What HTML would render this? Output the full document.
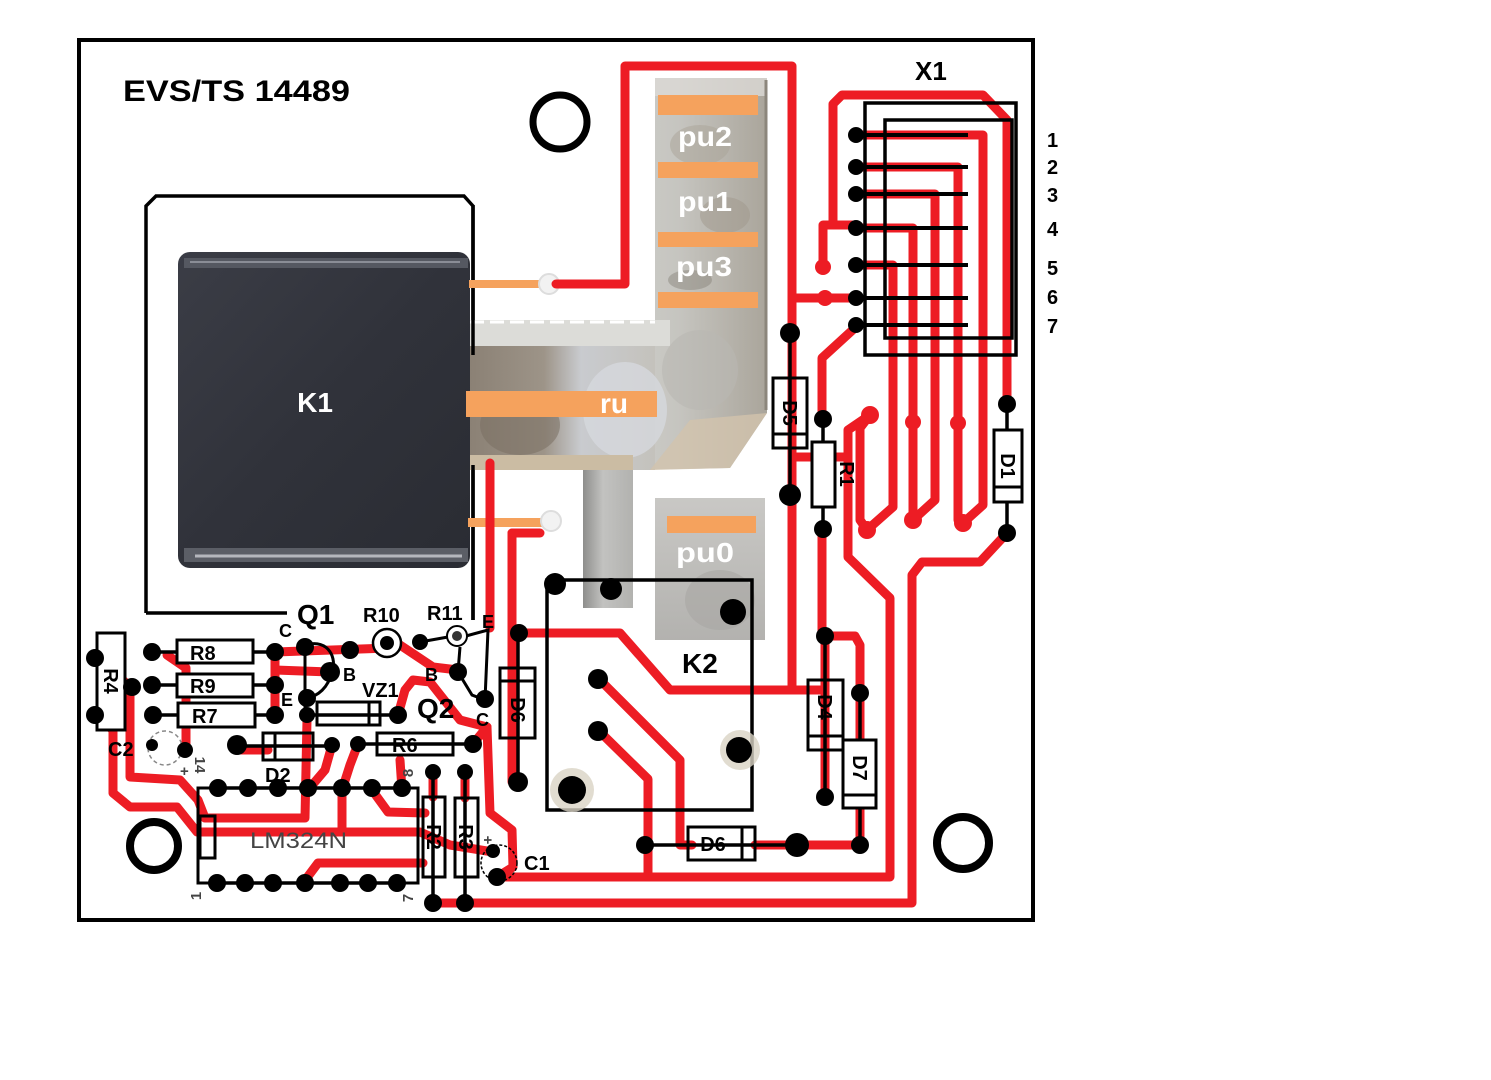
<!DOCTYPE html>
<html><head><meta charset="utf-8"><style>
html,body{margin:0;padding:0;background:#fff;}
svg{display:block;}
text{font-family:"Liberation Sans",Arial,sans-serif;font-weight:bold;}
</style></head><body>
<svg width="1491" height="1080" viewBox="0 0 1491 1080" xmlns="http://www.w3.org/2000/svg">
<defs>
 <linearGradient id="k1g" x1="0" y1="0" x2="1" y2="1">
  <stop offset="0" stop-color="#3b3d46"/><stop offset="0.5" stop-color="#30323a"/><stop offset="1" stop-color="#2a2c33"/>
 </linearGradient>
 <linearGradient id="colg" x1="0" y1="0" x2="1" y2="0">
  <stop offset="0" stop-color="#b7b3aa"/><stop offset="0.35" stop-color="#d3d3d0"/><stop offset="0.7" stop-color="#c6c5c0"/><stop offset="1" stop-color="#aaa59b"/>
 </linearGradient>
 <linearGradient id="bodyg" x1="0" y1="0" x2="1" y2="0">
  <stop offset="0" stop-color="#8b8175"/><stop offset="0.4" stop-color="#9d9488"/><stop offset="0.6" stop-color="#c9cbcf"/><stop offset="1" stop-color="#c4c2bc"/>
 </linearGradient>
 <linearGradient id="stemg" x1="0" y1="0" x2="1" y2="0">
  <stop offset="0" stop-color="#8e8e8c"/><stop offset="0.4" stop-color="#c2c2c0"/><stop offset="1" stop-color="#b2b2af"/>
 </linearGradient>
 <linearGradient id="pu0g" x1="0" y1="0" x2="0" y2="1">
  <stop offset="0" stop-color="#c9c8c5"/><stop offset="1" stop-color="#b3b2af"/>
 </linearGradient>
</defs>

<!-- board -->
<rect x="79" y="40" width="954" height="880" fill="#fff" stroke="#000" stroke-width="4"/>
<text x="123" y="101" font-size="30" textLength="227" lengthAdjust="spacingAndGlyphs">EVS/TS 14489</text>

<!-- mounting holes -->
<circle cx="560" cy="122" r="27" fill="none" stroke="#000" stroke-width="7"/>
<circle cx="154" cy="846" r="24" fill="none" stroke="#000" stroke-width="8"/>
<circle cx="963" cy="843" r="26" fill="none" stroke="#000" stroke-width="8"/>

<!-- K1 outline -->
<path d="M146,613 L146,206 L156,196 L464,196 L473,206 L473,620" fill="none" stroke="#000" stroke-width="3.5"/>
<path d="M146,613 L287,613" fill="none" stroke="#000" stroke-width="3.5"/>

<!-- photo silver region -->
<path d="M470,320 L655,320 L655,78 L767,78 L767,413 L730,468 L633,470 L633,608 L583,608 L583,470 L470,470 Z" fill="url(#colg)"/>
<rect x="470" y="320" width="185" height="150" fill="url(#bodyg)"/>
<rect x="470" y="320" width="200" height="26" fill="#dcdcd8"/>
<line x1="470" y1="322" x2="655" y2="322" stroke="#fff" stroke-width="3" stroke-dasharray="14 6"/>
<ellipse cx="520" cy="425" rx="40" ry="30" fill="#7a6f62" opacity="0.55"/>
<ellipse cx="625" cy="410" rx="42" ry="48" fill="#d6d8dd" opacity="0.8"/>
<ellipse cx="700" cy="370" rx="38" ry="40" fill="#b9b8b2" opacity="0.6"/>
<path d="M690,420 L767,413 L730,468 L650,470 Z" fill="#d2c3ac" opacity="0.8"/>
<rect x="470" y="455" width="163" height="15" fill="#cbbca3"/>
<rect x="583" y="470" width="50" height="138" fill="url(#stemg)"/>
<rect x="655" y="78" width="112" height="18" fill="#dcdad6" opacity="0.8"/>
<ellipse cx="700" cy="145" rx="30" ry="20" fill="#a9a397" opacity="0.5"/>
<ellipse cx="725" cy="215" rx="25" ry="18" fill="#9f988c" opacity="0.5"/>
<ellipse cx="690" cy="280" rx="22" ry="10" fill="#7d776e" opacity="0.4"/>
<line x1="766" y1="80" x2="766" y2="410" stroke="#8c867c" stroke-width="3"/>
<rect x="655" y="498" width="110" height="142" fill="url(#pu0g)"/>
<ellipse cx="720" cy="600" rx="35" ry="30" fill="#a8a7a4" opacity="0.6"/>

<!-- K1 body -->
<rect x="178" y="252" width="292" height="316" rx="12" fill="url(#k1g)"/>
<rect x="184" y="258" width="284" height="10" fill="#555861"/>
<line x1="190" y1="262" x2="460" y2="262" stroke="#8a8d96" stroke-width="2"/>
<rect x="184" y="548" width="284" height="14" fill="#5b5e66"/>
<line x1="195" y1="556" x2="462" y2="556" stroke="#b5b7bd" stroke-width="3"/>
<text x="315" y="412" font-size="28" fill="#fff" text-anchor="middle">K1</text>
<line x1="473" y1="205" x2="473" y2="355" stroke="#000" stroke-width="3.5"/>
<line x1="473" y1="465" x2="473" y2="620" stroke="#000" stroke-width="3.5"/>

<!-- orange pads -->
<g fill="#f5a25d">
 <rect x="658" y="95" width="100" height="20"/>
 <rect x="658" y="162" width="100" height="16"/>
 <rect x="658" y="232" width="100" height="15"/>
 <rect x="658" y="292" width="100" height="16"/>
 <rect x="466" y="391" width="191" height="26"/>
 <rect x="667" y="516" width="89" height="17"/>
 <rect x="469" y="280" width="80" height="8"/>
 <rect x="468" y="518" width="82" height="9"/>
</g>
<circle cx="549" cy="284" r="10" fill="#f2f2f2" stroke="#ddd" stroke-width="2"/>
<circle cx="551" cy="521" r="10" fill="#f2f2f2" stroke="#ddd" stroke-width="2"/>
<g fill="#fff" font-size="28">
 <text x="678" y="146" textLength="54" lengthAdjust="spacingAndGlyphs">pu2</text>
 <text x="678" y="211" textLength="54" lengthAdjust="spacingAndGlyphs">pu1</text>
 <text x="676" y="276" textLength="56" lengthAdjust="spacingAndGlyphs">pu3</text>
 <text x="600" y="413">ru</text>
 <text x="676" y="562" textLength="58" lengthAdjust="spacingAndGlyphs">pu0</text>
</g>

<!-- RED TRACES -->
<g fill="none" stroke="#ed1c24" stroke-width="9" stroke-linejoin="round" stroke-linecap="round">
 <path d="M556,284 L625,284 L625,66 L792,66 L792,690"/>
 <path d="M792,298 L857,298"/>
 <path d="M823,267 L823,225 L853,225"/>
 <path d="M833,225 L833,104 L842,95 L983,95 L1007,120 L1007,403"/>
 <path d="M857,326 L822,358 L822,420"/>
 <path d="M857,135 L983,135 L983,505 L963,523"/>
 <path d="M857,167 L958,167 L958,520 L963,523"/>
 <path d="M857,194 L935,194 L935,500 L913,520"/>
 <path d="M857,228 L913,228 L913,520"/>
 <path d="M857,265 L893,265 L893,507 L867,530"/>
 <path d="M867,530 L860,520 L860,428 L870,415"/>
 <path d="M870,415 L848,430 L848,557 L890,598 L890,877 L497,877"/>
 <path d="M792,457 L848,457"/>
 <path d="M1007,533 L980,562 L922,562 L912,575 L912,903 L433,903"/>
 <path d="M519,633 L620,633 L670,690 L825,690"/>
 <path d="M598,678 L680,760 L680,845 L692,845"/>
 <path d="M598,730 L648,779 L648,877"/>
 <path d="M822,528 L822,636"/>
 <path d="M825,636 L825,797"/>
 <path d="M825,636 L855,636 L860,645 L860,845"/>
 <path d="M755,845 L860,845"/>
 <path d="M490,463 L490,628"/>
 <path d="M512,533 L540,533"/>
 <path d="M512,533 L512,782"/>
 <!-- bottom-left -->
 <path d="M102,660 L130,687"/>
 <path d="M130,687 L130,777 L180,780 L198,800 L205,818 L305,818 L307,720"/>
 <path d="M95,715 L113,730 L113,793 L130,807 L177,807 L197,832 L420,832 L450,845 L493,852"/>
 <path d="M167,655 L186,668 L186,748"/>
 <path d="M275,652 L275,715"/>
 <path d="M275,670 L330,672"/>
 <path d="M275,652 L388,648"/>
 <path d="M237,750 L268,750"/>
 <path d="M342,790 L342,832"/>
 <path d="M358,744 L350,765 L342,790"/>
 <path d="M332,745 L325,770 L308,790"/>
 <path d="M372,790 L388,812 L425,813"/>
 <path d="M303,883 L318,863 L423,863"/>
 <path d="M398,715 L405,690 L413,680 L430,682 L460,720 L487,727 L490,813 L512,830 L513,867 L497,877"/>
 <path d="M400,645 L433,667 L458,670"/>
 <path d="M402,790 L400,760"/>
 <path d="M433,772 L433,797"/>
 <path d="M465,772 L465,798"/>
 <path d="M473,744 L487,727"/>
</g>
<g fill="#ed1c24">
 <circle cx="823" cy="267" r="8"/>
 <circle cx="825" cy="298" r="8"/>
 <circle cx="870" cy="415" r="9"/>
 <circle cx="867" cy="530" r="9"/>
 <circle cx="913" cy="422" r="8"/>
 <circle cx="913" cy="520" r="9"/>
 <circle cx="958" cy="423" r="8"/>
 <circle cx="963" cy="523" r="9"/>
</g>

<!-- X1 -->
<text x="915" y="80" font-size="26">X1</text>
<rect x="865" y="103" width="151" height="252" fill="none" stroke="#000" stroke-width="3.5"/>
<rect x="885" y="120" width="127" height="218" fill="none" stroke="#000" stroke-width="3.5"/>
<g stroke="#000" stroke-width="4">
 <line x1="857" y1="135" x2="968" y2="135"/>
 <line x1="857" y1="167" x2="968" y2="167"/>
 <line x1="857" y1="194" x2="968" y2="194"/>
 <line x1="857" y1="228" x2="968" y2="228"/>
 <line x1="857" y1="265" x2="968" y2="265"/>
 <line x1="857" y1="298" x2="968" y2="298"/>
 <line x1="857" y1="325" x2="968" y2="325"/>
</g>
<g fill="#000">
 <circle cx="856" cy="135" r="8"/><circle cx="856" cy="167" r="8"/><circle cx="856" cy="194" r="8"/>
 <circle cx="856" cy="228" r="8"/><circle cx="856" cy="265" r="8"/><circle cx="856" cy="298" r="8"/><circle cx="856" cy="325" r="8"/>
</g>
<g font-size="20">
 <text x="1047" y="147">1</text><text x="1047" y="174">2</text><text x="1047" y="202">3</text>
 <text x="1047" y="236">4</text><text x="1047" y="275">5</text><text x="1047" y="304">6</text><text x="1047" y="333">7</text>
</g>

<!-- D5, R1, D1 -->
<g stroke="#000" stroke-width="3.5" fill="none">
 <line x1="790" y1="333" x2="790" y2="495"/>
 <line x1="823" y1="418" x2="823" y2="530"/>
 <line x1="1007" y1="403" x2="1007" y2="533"/>
 <line x1="825" y1="636" x2="825" y2="797"/>
 <line x1="860" y1="693" x2="860" y2="845"/>
 <line x1="518" y1="633" x2="518" y2="782"/>
 <line x1="645" y1="845" x2="797" y2="845"/>
</g>
<g stroke="#000" stroke-width="3" fill="#fff">
 <rect x="773" y="378" width="34" height="70" fill="none"/>
 <rect x="812" y="442" width="23" height="65"/>
 <rect x="994" y="430" width="28" height="72"/>
 <rect x="808" y="680" width="35" height="70" fill="none"/>
 <rect x="843" y="740" width="33" height="68"/>
 <rect x="500" y="668" width="35" height="70" fill="none"/>
 <rect x="688" y="827" width="67" height="33" fill="none"/>
</g>
<g stroke="#000" stroke-width="3">
 <line x1="773" y1="434" x2="807" y2="434"/>
 <line x1="994" y1="487" x2="1022" y2="487"/>
 <line x1="808" y1="736" x2="843" y2="736"/>
 <line x1="843" y1="795" x2="876" y2="795"/>
 <line x1="500" y1="681" x2="535" y2="681"/>
 <line x1="742" y1="827" x2="742" y2="860"/>
</g>
<g fill="#000">
 <circle cx="790" cy="333" r="10"/><circle cx="790" cy="495" r="11"/>
 <circle cx="823" cy="419" r="9"/><circle cx="823" cy="529" r="9"/>
 <circle cx="1007" cy="404" r="9"/><circle cx="1007" cy="533" r="9"/>
 <circle cx="825" cy="636" r="9"/><circle cx="825" cy="797" r="9"/>
 <circle cx="860" cy="693" r="9"/><circle cx="860" cy="845" r="9"/>
 <circle cx="519" cy="633" r="9"/><circle cx="518" cy="782" r="10"/>
 <circle cx="645" cy="845" r="9"/><circle cx="797" cy="845" r="12"/>
</g>
<g font-size="20">
 <text transform="translate(790,413) rotate(90)" text-anchor="middle" dy="7">D5</text>
 <text transform="translate(847,474) rotate(90)" text-anchor="middle" dy="7">R1</text>
 <text transform="translate(1008,466) rotate(90)" text-anchor="middle" dy="7">D1</text>
 <text transform="translate(825,707) rotate(90)" text-anchor="middle" dy="7">D4</text>
 <text transform="translate(860,768) rotate(90)" text-anchor="middle" dy="7">D7</text>
 <text transform="translate(518,710) rotate(90)" text-anchor="middle" dy="7">D6</text>
 <text x="713" y="851" text-anchor="middle">D6</text>
</g>

<!-- K2 -->
<rect x="547" y="580" width="205" height="230" fill="none" stroke="#000" stroke-width="3.5"/>
<circle cx="740" cy="750" r="20" fill="#d9d3c4" opacity="0.8"/>
<circle cx="572" cy="790" r="22" fill="#d9d3c4" opacity="0.8"/>
<g fill="#000">
 <circle cx="555" cy="584" r="11"/><circle cx="611" cy="589" r="11"/>
 <circle cx="733" cy="612" r="13"/><circle cx="598" cy="679" r="10"/>
 <circle cx="598" cy="731" r="10"/><circle cx="739" cy="750" r="13"/>
 <circle cx="572" cy="790" r="14"/>
</g>
<text x="682" y="673" font-size="28">K2</text>

<!-- bottom-left components -->
<g stroke="#000" stroke-width="3.5">
 <line x1="152" y1="652" x2="275" y2="652"/>
 <line x1="152" y1="685" x2="275" y2="685"/>
 <line x1="153" y1="715" x2="275" y2="715"/>
 <line x1="237" y1="746" x2="332" y2="746"/>
 <line x1="358" y1="744" x2="473" y2="744"/>
 <line x1="307" y1="715" x2="398" y2="715"/>
 <line x1="433" y1="772" x2="433" y2="903"/>
 <line x1="465" y1="772" x2="465" y2="903"/>
 <line x1="218" y1="788" x2="402" y2="788"/>
 <line x1="217" y1="883" x2="397" y2="883"/>
</g>
<g stroke="#000" stroke-width="3" fill="#fff">
 <rect x="97" y="633" width="28" height="97"/>
 <rect x="177" y="640" width="76" height="23"/>
 <rect x="177" y="674" width="76" height="23"/>
 <rect x="178" y="703" width="77" height="24"/>
 <rect x="263" y="733" width="50" height="27" fill="none"/>
 <rect x="317" y="702" width="63" height="23" fill="none"/>
 <rect x="377" y="733" width="76" height="22" fill="none"/>
 <rect x="423" y="797" width="22" height="80" fill="none"/>
 <rect x="455" y="798" width="23" height="79" fill="none"/>
 <rect x="198" y="788" width="220" height="95" fill="none"/>
 <rect x="200" y="816" width="15" height="42" fill="none"/>
</g>
<g stroke="#000" stroke-width="3">
 <line x1="275" y1="733" x2="275" y2="760"/>
 <line x1="369" y1="702" x2="369" y2="725"/>
</g>
<circle cx="165" cy="748" r="17" fill="none" stroke="#888" stroke-width="1.5" stroke-dasharray="4 3"/>
<circle cx="499" cy="863" r="18" fill="none" stroke="#000" stroke-width="1.5" stroke-dasharray="3 2"/>

<!-- Q1 / Q2 / R10 / R11 outlines -->
<g fill="none" stroke="#000" stroke-width="3">
 <path d="M305,645 L305,715"/>
 <path d="M305,645 C330,638 337,660 332,672 C328,688 318,696 307,698"/>
 <path d="M420,642 L448,637"/>
 <path d="M466,636 L488,630 L485,700"/>
 <path d="M460,647 L458,672 L472,695 L485,700"/>
</g>
<circle cx="387" cy="643" r="14" fill="#fff" stroke="#000" stroke-width="2.5"/>
<circle cx="457" cy="636" r="10" fill="#fff" stroke="#000" stroke-width="2"/>
<circle cx="457" cy="636" r="5" fill="#333"/>

<g fill="#000">
 <circle cx="95" cy="658" r="9"/><circle cx="95" cy="715" r="9"/><circle cx="132" cy="687" r="9"/>
 <circle cx="152" cy="652" r="9"/><circle cx="275" cy="652" r="9"/>
 <circle cx="152" cy="685" r="9"/><circle cx="275" cy="685" r="9"/>
 <circle cx="153" cy="715" r="9"/><circle cx="275" cy="715" r="9"/>
 <circle cx="152" cy="745" r="6"/><circle cx="185" cy="750" r="8"/>
 <circle cx="237" cy="745" r="10"/><circle cx="332" cy="745" r="8"/>
 <circle cx="358" cy="744" r="8"/><circle cx="473" cy="744" r="9"/>
 <circle cx="307" cy="715" r="8"/><circle cx="398" cy="715" r="9"/>
 <circle cx="305" cy="647" r="9"/><circle cx="330" cy="672" r="10"/><circle cx="307" cy="698" r="9"/>
 <circle cx="350" cy="650" r="9"/><circle cx="387" cy="643" r="7"/><circle cx="420" cy="642" r="8"/>
 <circle cx="458" cy="672" r="9"/><circle cx="485" cy="699" r="9"/>
 <circle cx="433" cy="772" r="8"/><circle cx="433" cy="903" r="9"/>
 <circle cx="465" cy="772" r="8"/><circle cx="465" cy="903" r="9"/>
 <circle cx="493" cy="851" r="7"/><circle cx="497" cy="877" r="9"/>
 <circle cx="218" cy="788" r="9"/><circle cx="248" cy="788" r="9"/><circle cx="278" cy="788" r="9"/>
 <circle cx="308" cy="788" r="9"/><circle cx="342" cy="788" r="9"/><circle cx="372" cy="788" r="9"/><circle cx="402" cy="788" r="9"/>
 <circle cx="217" cy="883" r="9"/><circle cx="245" cy="883" r="9"/><circle cx="273" cy="883" r="9"/>
 <circle cx="305" cy="883" r="9"/><circle cx="340" cy="883" r="9"/><circle cx="368" cy="883" r="9"/><circle cx="397" cy="883" r="9"/>
</g>

<g font-size="20">
 <text x="190" y="660">R8</text>
 <text x="190" y="693">R9</text>
 <text x="192" y="723">R7</text>
 <text x="392" y="752">R6</text>
 <text x="108" y="756">C2</text>
 <text x="265" y="782">D2</text>
 <text x="524" y="870">C1</text>
 <text x="362" y="697">VZ1</text>
 <text x="363" y="622">R10</text>
 <text x="427" y="620">R11</text>
 <text transform="translate(111,681) rotate(90)" text-anchor="middle" dy="7">R4</text>
 <text transform="translate(434,837) rotate(90)" text-anchor="middle" dy="7">R2</text>
 <text transform="translate(466,837) rotate(90)" text-anchor="middle" dy="7">R3</text>
</g>
<g font-size="28">
 <text x="297" y="624">Q1</text>
 <text x="417" y="718">Q2</text>
</g>
<g font-size="18">
 <text x="279" y="637">C</text>
 <text x="343" y="681">B</text>
 <text x="281" y="706">E</text>
 <text x="482" y="628">E</text>
 <text x="425" y="681">B</text>
 <text x="476" y="726">C</text>
</g>
<text x="250" y="848" font-size="22" font-weight="normal" style="font-weight:normal" fill="#444" textLength="97" lengthAdjust="spacingAndGlyphs">LM324N</text>
<g font-size="15" fill="#444" style="font-weight:normal">
 <text transform="translate(196,896) rotate(-90)" text-anchor="middle" dy="5">1</text>
 <text transform="translate(408,898) rotate(-90)" text-anchor="middle" dy="5">7</text>
 <text transform="translate(408,773) rotate(-90)" text-anchor="middle" dy="5">8</text>
 <text transform="translate(200,765) rotate(90)" text-anchor="middle" dy="5">14</text>
 <text x="180" y="776">+</text>
 <text transform="translate(488,840) rotate(90)" text-anchor="middle" dy="5">+</text>
</g>
</svg>
</body></html>
